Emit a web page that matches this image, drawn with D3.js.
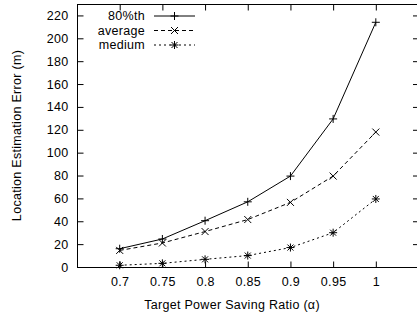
<!DOCTYPE html>
<html>
<head>
<meta charset="utf-8">
<script src="https://cdn.jsdelivr.net/npm/d3@7"></script>
<style>
  body { margin: 0; background: #fff; }
  svg text { font-family: "Liberation Sans", Arial, sans-serif; font-size: 12.5px; letter-spacing: 0.3px; fill: #000; }
</style>
</head>
<body>
<div id="chart"></div>
<script>
'use strict';

const ratios = [0.7, 0.75, 0.8, 0.85, 0.9, 0.95, 1];
const pct80 = [16, 24.5, 40.5, 57, 79.5, 129.5, 214];
const average = [14.5, 21, 31, 41.5, 56.5, 79.5, 118];
const medium = [1.5, 3.2, 6.7, 10, 17, 30, 59.5];
const seriesNames = ["80%th", "average", "medium"];
const yTicks = [0, 20, 40, 60, 80, 100, 120, 140, 160, 180, 200, 220];
const xTickLabels = ["0.7", "0.75", "0.8", "0.85", "0.9", "0.95", "1"];

let width = 417;
let height = 318;
let margin = { top: 4, bottom: 51, left: 77, right: -1.5 };

const svg = d3.select("#chart")
    .append("svg")
    .attr("width", width)
    .attr("height", height);

const xScale = d3.scaleLinear()
    .domain([0.65, 1.05])
    .range([margin.left, width - margin.right]);

const yScale = d3.scaleLinear()
    .domain([0, 230])
    .range([height - margin.bottom, margin.top]);

// frame
svg.append("rect")
    .attr("x", margin.left + 0.5)
    .attr("y", margin.top + 0.5)
    .attr("width", xScale(1.05) - margin.left)
    .attr("height", yScale(0) - margin.top)
    .attr("fill", "none")
    .attr("stroke", "black");

// axes, ticks pointing inward
const yAxis = d3.axisLeft(yScale).tickValues(yTicks).tickSizeInner(-6).tickSizeOuter(0).tickPadding(9);
const xAxis = d3.axisBottom(xScale).tickValues(ratios)
    .tickFormat((d, i) => xTickLabels[i]).tickSizeInner(-6).tickSizeOuter(0).tickPadding(10);

svg.append("g")
    .attr("transform", `translate(${margin.left + 0.5},0)`)
    .call(yAxis)
    .call(g => g.select(".domain").remove());

svg.append("g")
    .attr("transform", `translate(0,${yScale(0) + 0.5})`)
    .call(xAxis)
    .call(g => g.select(".domain").remove());

// mirrored ticks on top and right
svg.append("g")
    .attr("transform", `translate(0,${margin.top + 0.5})`)
    .call(d3.axisTop(xScale).tickValues(ratios).tickSizeInner(-6).tickSizeOuter(0).tickFormat(""))
    .call(g => g.select(".domain").remove());

svg.append("g")
    .attr("transform", `translate(${xScale(1.05) + 0.5},0)`)
    .call(d3.axisRight(yScale).tickValues(yTicks).tickSizeInner(-6).tickSizeOuter(0).tickFormat(""))
    .call(g => g.select(".domain").remove());

svg.selectAll(".tick text")
    .style("font-size", "12.5px")
    .style("font-family", "'Liberation Sans', Arial, sans-serif");

// axis labels
svg.append("text")
    .attr("x", 232)
    .attr("y", 309)
    .attr("text-anchor", "middle")
    .text("Target Power Saving Ratio (α)");

svg.append("text")
    .attr("transform", `translate(21,${(margin.top + yScale(0)) / 2}) rotate(-90)`)
    .attr("text-anchor", "middle")
    .text("Location Estimation Error (m)");

// markers
const plus = (g, s) => g.append("path").attr("d", `M${-s},0H${s}M0,${-s}V${s}`);
const cross = (g, s) => g.append("path").attr("d", `M${-s},${-s}L${s},${s}M${-s},${s}L${s},${-s}`);
const markers = [
    g => plus(g, 4),
    g => cross(g, 3.5),
    g => { plus(g, 4); cross(g, 3); }
];
const dashes = [null, "4,3", "2,3"];
const allSeries = [pct80, average, medium];

const line = d3.line()
    .x((d, i) => xScale(ratios[i]))
    .y(d => yScale(d));

allSeries.forEach((vals, k) => {
    svg.append("path")
        .datum(vals)
        .attr("d", line)
        .attr("fill", "none")
        .attr("stroke", "black")
        .attr("stroke-width", 1)
        .attr("stroke-dasharray", dashes[k]);

    vals.forEach((v, i) => {
        const g = svg.append("g")
            .attr("transform", `translate(${xScale(ratios[i])},${yScale(v)})`)
            .attr("stroke", "black")
            .attr("stroke-width", 1)
            .attr("fill", "none");
        markers[k](g);
    });
});

// legend
const legend = svg.append("g");
seriesNames.forEach((name, k) => {
    const ly = 16 + k * 14.5;
    legend.append("text")
        .attr("x", 145)
        .attr("y", ly)
        .attr("dy", "0.35em")
        .attr("text-anchor", "end")
        .text(name);
    legend.append("line")
        .attr("x1", 154).attr("x2", 195)
        .attr("y1", ly).attr("y2", ly)
        .attr("stroke", "black")
        .attr("stroke-dasharray", dashes[k]);
    const g = legend.append("g")
        .attr("transform", `translate(174.5,${ly})`)
        .attr("stroke", "black")
        .attr("fill", "none");
    markers[k](g);
});
</script>
</body>
</html>
